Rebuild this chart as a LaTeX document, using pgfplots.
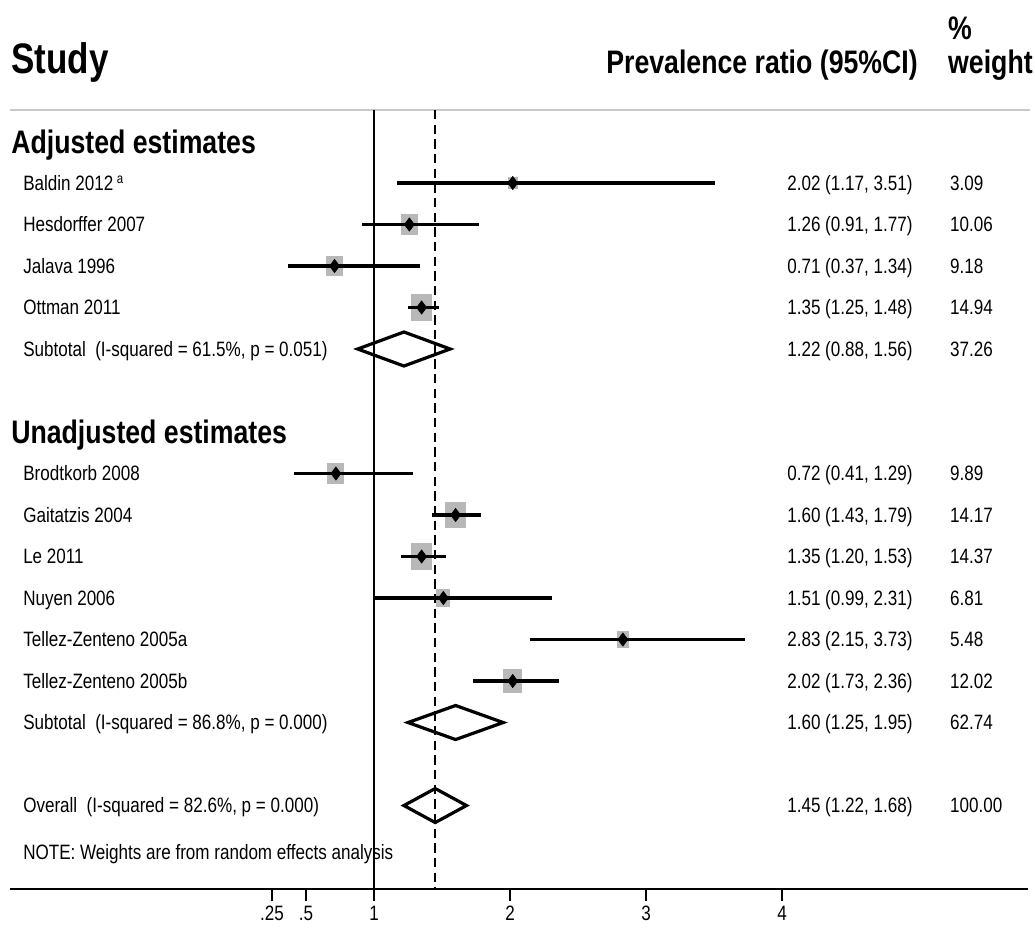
\documentclass[border=0pt]{standalone}
\usepackage{pgfplots}
\pgfplotsset{compat=1.18}
\usepackage{pgfplotstable}
\usepackage{fontspec}
\setmainfont[FakeStretch=0.82]{Liberation Sans}
\definecolor{sqgray}{RGB}{184,184,184}
\definecolor{lngray}{RGB}{200,200,200}
\newcommand{\sm}{\fontsize{15.6}{18}\selectfont}
\newcommand{\hd}{\fontsize{24.4}{28}\selectfont\bfseries}

\pgfplotstableread{
row est lo hi w
-1 2.02 1.17 3.51 3.09
-2 1.26 0.91 1.77 10.06
-3 0.71 0.37 1.34 9.18
-4 1.35 1.25 1.48 14.94
-8 0.72 0.41 1.29 9.89
-9 1.60 1.43 1.79 14.17
-10 1.35 1.20 1.53 14.37
-11 1.51 0.99 2.31 6.81
-12 2.83 2.15 3.73 5.48
-13 2.02 1.73 2.36 12.02
}\studies

\begin{document}
\begin{tikzpicture}
\begin{axis}[
 scale only axis, width=763.5pt, height=666.4pt,
 xmin=-1.6765, xmax=5.8088, ymin=-18, ymax=3.4096,
 axis x line*=bottom, axis y line=none,
 x axis line style={line width=1.5pt, -},
 xtick={0.25,0.5,1,2,3,4}, xticklabels={.25,.5,1,2,3,4},
 tick align=outside, major tick length=9.5pt,
 x tick style={line width=1.5pt, black},
 ytick=\empty,
 xticklabel style={font=\sm},
 /pgf/number format/assume math mode=true,
 clip=false,
 sq/.style={fill=sqgray, draw=none, mark=none},
]
% bounding box of the whole picture
\path (axis cs:-1.75,3.4096) rectangle (axis cs:5.8603,-18.976);

% top rule
\addplot[lngray, line width=1.5pt, mark=none] coordinates {(-1.6765,0.76) (5.8235,0.76)};

% weight boxes (area proportional to weight)
\addplot[sq] coordinates {(1.9849,-1.1461) (2.0551,-1.1461) (2.0551,-0.8539) (1.9849,-0.8539)} -- cycle;
\addplot[sq] coordinates {(1.1967,-2.2636) (1.3233,-2.2636) (1.3233,-1.7364) (1.1967,-1.7364)} -- cycle;
\addplot[sq] coordinates {(0.6495,-3.2518) (0.7705,-3.2518) (0.7705,-2.7482) (0.6495,-2.7482)} -- cycle;
\addplot[sq] coordinates {(1.2729,-4.3211) (1.4271,-4.3211) (1.4271,-3.6789) (1.2729,-3.6789)} -- cycle;
\addplot[sq] coordinates {(0.6572,-8.2613) (0.7828,-8.2613) (0.7828,-7.7387) (0.6572,-7.7387)} -- cycle;
\addplot[sq] coordinates {(1.5249,-9.3128) (1.6751,-9.3128) (1.6751,-8.6872) (1.5249,-8.6872)} -- cycle;
\addplot[sq] coordinates {(1.2743,-10.3150) (1.4257,-10.3150) (1.4257,-9.6850) (1.2743,-9.6850)} -- cycle;
\addplot[sq] coordinates {(1.4579,-11.2169) (1.5621,-11.2169) (1.5621,-10.7831) (1.4579,-10.7831)} -- cycle;
\addplot[sq] coordinates {(2.7833,-12.1945) (2.8767,-12.1945) (2.8767,-11.8055) (2.7833,-11.8055)} -- cycle;
\addplot[sq] coordinates {(1.9508,-13.2881) (2.0892,-13.2881) (2.0892,-12.7119) (1.9508,-12.7119)} -- cycle;

% reference lines
\addplot[black, line width=1.5pt, mark=none] coordinates {(1,0.76) (1,-18)};
\addplot[black, line width=1.5pt, mark=none, dash pattern=on 7pt off 4pt] coordinates {(1.45,0.76) (1.45,-18)};

% confidence intervals
\addplot[only marks, mark=none, error bars/.cd, x dir=both, x explicit, error mark=none,
  error bar style={line width=2.7pt, black}]
  table[x=est, y=row, x error plus expr=\thisrow{hi}-\thisrow{est}, x error minus expr=\thisrow{est}-\thisrow{lo}] {\studies};

% point estimates
\addplot[only marks, mark=diamond*, mark size=5pt, black] table[x=est, y=row] {\studies};

% pooled diamonds
\addplot[black, line width=2.4pt, line join=miter, mark=none] coordinates {(0.88,-5) (1.22,-4.59) (1.56,-5) (1.22,-5.41)} -- cycle;
\addplot[black, line width=2.4pt, line join=miter, mark=none] coordinates {(1.25,-14) (1.60,-13.59) (1.95,-14) (1.60,-14.41)} -- cycle;
\addplot[black, line width=2.4pt, line join=miter, mark=none] coordinates {(1.22,-16) (1.45,-15.59) (1.68,-16) (1.45,-16.41)} -- cycle;

% headers
\node[anchor=base west, yshift=-11.5pt, font=\fontsize{32}{36}\selectfont\bfseries, inner sep=0pt] at (axis cs:-1.669,2.01) {Study};
\node[anchor=base east, yshift=-8.7pt, font=\hd, inner sep=0pt] at (axis cs:5.0,1.92) {Prevalence ratio (95\%CI)};
\node[anchor=base west, yshift=-8.7pt, font=\hd, inner sep=0pt] at (axis cs:5.22,2.73) {\%};
\node[anchor=base west, yshift=-8.7pt, font=\hd, inner sep=0pt] at (axis cs:5.22,1.92) {weight};
\node[anchor=base west, yshift=-8.7pt, font=\hd, inner sep=0pt] at (axis cs:-1.669,0) {Adjusted estimates};
\node[anchor=base west, yshift=-8.7pt, font=\hd, inner sep=0pt] at (axis cs:-1.669,-7) {Unadjusted estimates};

% study labels
\begin{scope}[every node/.style={anchor=base west, yshift=-5.6pt, font=\sm, inner sep=0pt}]
\node at (axis cs:-1.581,-1) {Baldin 2012\,\textsuperscript{\fontsize{10.5}{12}\selectfont a}};
\node at (axis cs:-1.581,-2) {Hesdorffer 2007};
\node at (axis cs:-1.581,-3) {Jalava 1996};
\node at (axis cs:-1.581,-4) {Ottman 2011};
\node at (axis cs:-1.581,-5) {Subtotal\ \ (I-squared = 61.5\%, p = 0.051)};
\node at (axis cs:-1.581,-8) {Brodtkorb 2008};
\node at (axis cs:-1.581,-9) {Gaitatzis 2004};
\node at (axis cs:-1.581,-10) {Le 2011};
\node at (axis cs:-1.581,-11) {Nuyen 2006};
\node at (axis cs:-1.581,-12) {Tellez-Zenteno 2005a};
\node at (axis cs:-1.581,-13) {Tellez-Zenteno 2005b};
\node at (axis cs:-1.581,-14) {Subtotal\ \ (I-squared = 86.8\%, p = 0.000)};
\node at (axis cs:-1.581,-16) {Overall\ \ (I-squared = 82.6\%, p = 0.000)};
\node at (axis cs:-1.581,-17.12) {NOTE: Weights are from random effects analysis};
% estimates
\node at (axis cs:4.037,-1) {2.02 (1.17, 3.51)};
\node at (axis cs:4.037,-2) {1.26 (0.91, 1.77)};
\node at (axis cs:4.037,-3) {0.71 (0.37, 1.34)};
\node at (axis cs:4.037,-4) {1.35 (1.25, 1.48)};
\node at (axis cs:4.037,-5) {1.22 (0.88, 1.56)};
\node at (axis cs:4.037,-8) {0.72 (0.41, 1.29)};
\node at (axis cs:4.037,-9) {1.60 (1.43, 1.79)};
\node at (axis cs:4.037,-10) {1.35 (1.20, 1.53)};
\node at (axis cs:4.037,-11) {1.51 (0.99, 2.31)};
\node at (axis cs:4.037,-12) {2.83 (2.15, 3.73)};
\node at (axis cs:4.037,-13) {2.02 (1.73, 2.36)};
\node at (axis cs:4.037,-14) {1.60 (1.25, 1.95)};
\node at (axis cs:4.037,-16) {1.45 (1.22, 1.68)};
% weights
\node at (axis cs:5.235,-1) {3.09};
\node at (axis cs:5.235,-2) {10.06};
\node at (axis cs:5.235,-3) {9.18};
\node at (axis cs:5.235,-4) {14.94};
\node at (axis cs:5.235,-5) {37.26};
\node at (axis cs:5.235,-8) {9.89};
\node at (axis cs:5.235,-9) {14.17};
\node at (axis cs:5.235,-10) {14.37};
\node at (axis cs:5.235,-11) {6.81};
\node at (axis cs:5.235,-12) {5.48};
\node at (axis cs:5.235,-13) {12.02};
\node at (axis cs:5.235,-14) {62.74};
\node at (axis cs:5.235,-16) {100.00};
\end{scope}
\end{axis}
\end{tikzpicture}
\end{document}
